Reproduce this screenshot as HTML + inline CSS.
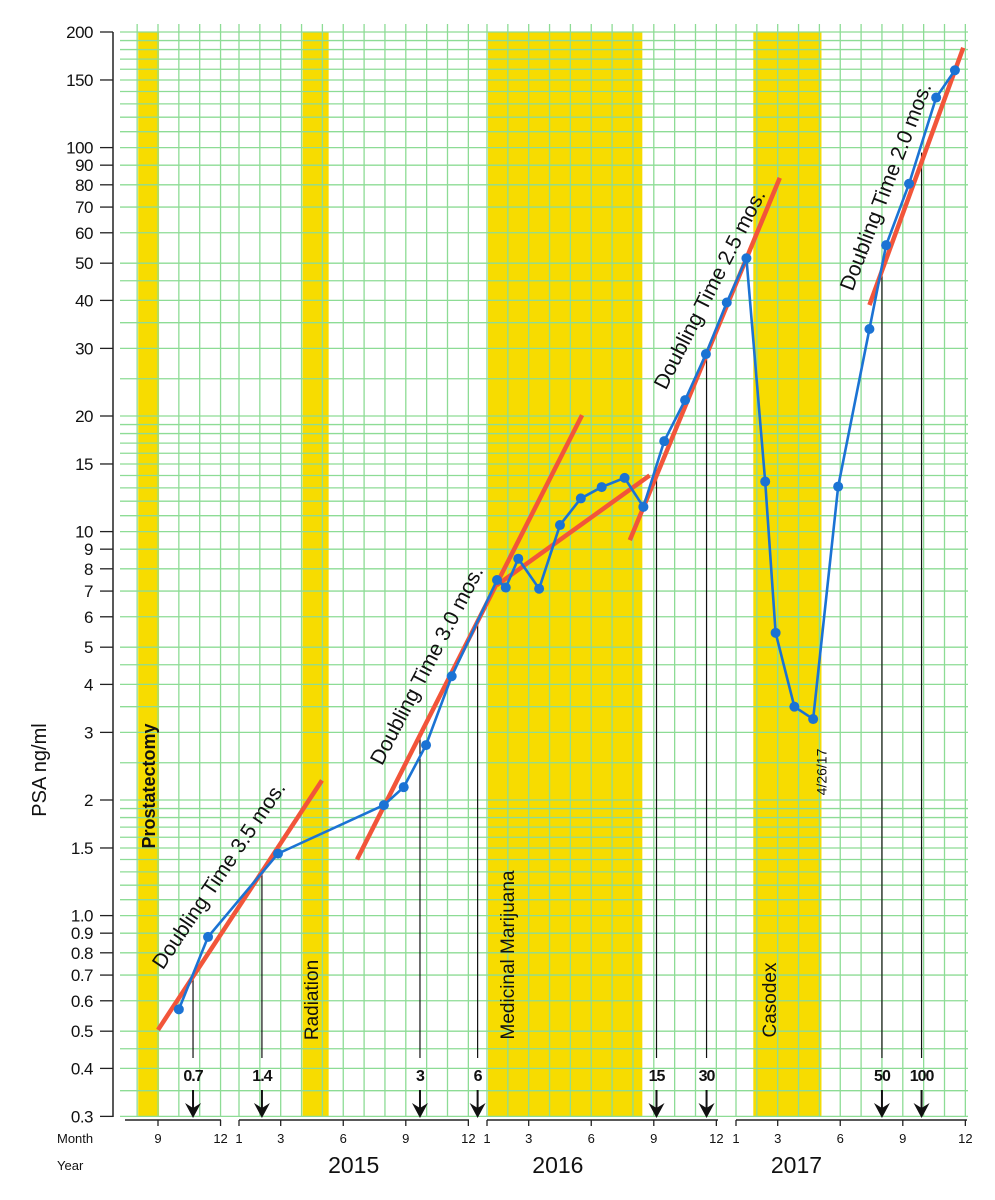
<!DOCTYPE html>
<html><head><meta charset="utf-8">
<style>
html,body{margin:0;padding:0;background:#fff;}
svg{display:block;font-family:"Liberation Sans",sans-serif;}
</style></head>
<body>
<svg id="chart" width="995" height="1200" viewBox="0 0 995 1200" xmlns="http://www.w3.org/2000/svg">
<g id="bands"></g>
<g id="grid"></g>
<g id="yaxis"></g>
<g id="xaxis"></g>
<g id="markers"></g>
<g id="trends"></g>
<g id="series"></g>
<g id="labels"></g>
</svg>
<script>
// ---- data ----
const psaDates = [[2014,10],[2014,11.4],[2015,2.87],[2015,7.95],[2015,8.9],[2015,9.97],[2015,11.2],
 [2016,1.48],[2016,1.9],[2016,2.5],[2016,3.5],[2016,4.5],[2016,5.5],[2016,6.5],[2016,7.6],[2016,8.5],
 [2016,9.5],[2016,10.5],[2016,11.5],[2016,12.5],[2017,1.5],[2017,2.4],[2017,2.9],[2017,3.8],[2017,4.7],
 [2017,5.9],[2017,7.4],[2017,8.2],[2017,9.3],[2017,10.6],[2017,11.5]];
const psaValues = [0.57,0.88,1.45,1.94,2.16,2.78,4.2,7.48,7.15,8.5,7.1,10.4,12.2,13.06,13.8,11.6,
 17.2,22,29,39.5,51.5,13.5,5.45,3.5,3.25,13.1,33.7,55.7,80.5,135,159];
const trendStart = [[2014,9,0.504],[2015,6.66,1.4],[2016,1.48,7.26],[2016,7.85,9.5],[2017,7.4,38.9]];
const trendEnd   = [[2015,4.98,2.25],[2016,5.56,20.1],[2016,8.8,14.0],[2017,3.1,83.4],[2017,11.9,182]];
const markerDates = [[2014,10.68],[2015,2.1],[2015,9.68],[2016,0.55],[2016,9.13],[2016,11.53],[2017,8.0],[2017,9.9]];
const markerValues = [0.7,1.3,2.9,5.8,14.5,29,47,97];
const markerLabels = ["0.7","1.4","3","6","15","30","50","100"];
const bandStart = [[2014,8.05],[2015,4.05],[2016,1.05],[2017,1.83]];
const bandEnd   = [[2014,9.05],[2015,5.3],[2016,8.45],[2017,5.1]];
const yTickValues = [200,150,100,90,80,70,60,50,40,30,20,15,10,9,8,7,6,5,4,3,2,1.5,1,0.9,0.8,0.7,0.6,0.5,0.4,0.3];
const yTickLabels = ["200","150","100","90","80","70","60","50","40","30","20","15","10","9","8","7","6","5","4","3","2","1.5","1.0","0.9","0.8","0.7","0.6","0.5","0.4","0.3"];
const monthTickMonths = [[2014,9],[2014,12],[2015,1],[2015,3],[2015,6],[2015,9],[2015,12],[2016,1],[2016,3],[2016,6],[2016,9],[2016,12],[2017,1],[2017,3],[2017,6],[2017,9],[2017,12]];
const monthTickLabels = ["9","12","1","3","6","9","12","1","3","6","9","12","1","3","6","9","12"];
const years = ["2015","2016","2017"];

// ---- scales ----
const janX = {2014:-8.8, 2015:239, 2016:487, 2017:736};
const MW = 20.85;
function xs(y,m){ return janX[y] + (m-1)*MW; }
const Y200 = 32, PPD = 384;
function ys(v){ return Y200 + PPD*Math.log10(200/v); }
const NS = "http://www.w3.org/2000/svg";
function mk(parent, tag, attrs, text){
  const e = document.createElementNS(NS, tag);
  for (const k in attrs) e.setAttribute(k, attrs[k]);
  if (text !== undefined) e.textContent = text;
  document.getElementById(parent).appendChild(e);
  return e;
}
const TOP = 32, BOT = 1117;

// bands
const bandNames = ["band-prostatectomy","band-radiation","band-medicinal-marijuana","band-casodex"];
bandStart.forEach((s,i)=>{
  const x0 = xs(s[0],s[1]), x1 = xs(bandEnd[i][0],bandEnd[i][1]);
  const r = mk("bands","rect",{x:x0,y:TOP,width:x1-x0,height:BOT-TOP,fill:"#f7dc00"});
  
  
});

// grid verticals
const gv = [];
[[2014,8,12],[2015,1,12],[2016,1,12],[2017,1,12]].forEach(a=>{ for(let m=a[1];m<=a[2];m++) gv.push(xs(a[0],m)); });
gv.forEach(x=>{
  const l = mk("grid","line",{x1:x,x2:x,y1:24,y2:BOT,stroke:"#8ddc95","stroke-width":1.3});
  
  
});
// grid horizontals
const gh = [];
[0.1,1,10,100].forEach(d=>{
  const steps = [3,3.5,4,4.5,5,6,7,8,9,10,11,12,13,14,15,16,17,18,19,20,25,30,35,40,45,50,60,70,80,90];
  steps.forEach(s=>{ const v=s*d/10; if(v>=0.3-1e-9 && v<=200+1e-9) gh.push(v); });
});
[...new Set(gh.map(v=>+v.toFixed(4)))].forEach(v=>{
  const y = ys(v);
  const l = mk("grid","line",{x1:120,x2:968,y1:y,y2:y,stroke:"#8ddc95","stroke-width":1.3});
  
  
});

// y axis
mk("yaxis","line",{x1:113,x2:113,y1:TOP,y2:BOT,stroke:"#222","stroke-width":1.5});
yTickValues.forEach((v,i)=>{
  const y = ys(v);
  const t = mk("yaxis","line",{x1:100,x2:113,y1:y,y2:y,stroke:"#222","stroke-width":1.3});
  
  
  const lb = mk("yaxis","text",{x:93,y:y+6,"text-anchor":"end","font-size":17,fill:"#111","letter-spacing":"-0.5"}, yTickLabels[i]);
  
  
});
const yt = mk("yaxis","text",{x:0,y:0,transform:"translate(46,770) rotate(-90)","text-anchor":"middle","font-size":20,fill:"#111"},"PSA ng/ml");



// x axis segments
[[125,221],[239,469],[487,718],[736,967]].forEach(s=>{
  const l = mk("xaxis","line",{x1:s[0],x2:s[1],y1:1120,y2:1120,stroke:"#222","stroke-width":1.5});
  
  
});
monthTickMonths.forEach((d,i)=>{
  const x = xs(d[0],d[1]);
  mk("xaxis","line",{x1:x,x2:x,y1:1120,y2:1126,stroke:"#222","stroke-width":1.3});
  const t = mk("xaxis","text",{x:x,y:1143,"text-anchor":"middle","font-size":13,fill:"#111"},monthTickLabels[i]);
  
  
});
mk("xaxis","text",{x:57,y:1143,"font-size":13,fill:"#111"},"Month");
mk("xaxis","text",{x:57,y:1170,"font-size":13,fill:"#111"},"Year");
[[2015,6.5],[2016,4.4],[2017,3.9]].forEach((d,i)=>{
  const t = mk("xaxis","text",{x:xs(d[0],d[1]),y:1173,"text-anchor":"middle","font-size":23,fill:"#111"},years[i]);
  
  
});

// markers
markerDates.forEach((d,i)=>{
  const x = xs(d[0],d[1]), yTop = ys(markerValues[i]);
  const l = mk("markers","line",{x1:x,x2:x,y1:yTop,y2:1058,stroke:"#111","stroke-width":1.2});
  
  
  const t = mk("markers","text",{x:x,y:1081,"text-anchor":"middle","font-size":16,"font-weight":"bold",fill:"#111","letter-spacing":"-1"},markerLabels[i]);
  
  
  mk("markers","line",{x1:x,x2:x,y1:1090,y2:1108,stroke:"#111","stroke-width":2});
  const a = mk("markers","path",{d:`M${x-8},${1103} L${x},${1118} L${x+8},${1103} L${x},${1108} Z`,fill:"#111"});
  
  
});

// trends
trendStart.forEach((s,i)=>{
  const e = trendEnd[i];
  const l = mk("trends","line",{x1:xs(s[0],s[1]),y1:ys(s[2]),x2:xs(e[0],e[1]),y2:ys(e[2]),stroke:"#f2553a","stroke-width":4.5,"stroke-linecap":"butt"});
  
  
});

// series
const pts = psaDates.map((d,i)=>[xs(d[0],d[1]), ys(psaValues[i])]);
const pl = mk("series","polyline",{points:pts.map(p=>p.join(",")).join(" "),fill:"none",stroke:"#1b73d4","stroke-width":2.6});


pts.forEach(p=>{
  const c = mk("series","circle",{cx:p[0],cy:p[1],r:5,fill:"#1b73d4"});
  
  
});

// annotations
function rot(name, txt, cx, cy, ang, size, weight){
  const t = mk("labels","text",{x:0,y:0,transform:`translate(${cx},${cy}) rotate(${ang})`,"text-anchor":"middle","dominant-baseline":"middle","font-size":size,"font-weight":weight||"normal",fill:"#111"},txt);
  
  
}
rot("prostatectomy-label","Prostatectomy",150,786,-90,18,"bold");
rot("radiation-label","Radiation",313,1000,-90,19);
rot("marijuana-label","Medicinal Marijuana",509,955,-90,19);
rot("casodex-label","Casodex",771,1000,-90,19);
rot("date-label","4/26/17",823,772,-90,14);
rot("doubling-35-label","Doubling Time 3.5 mos.",220,876,-56,21);
rot("doubling-30-label","Doubling Time 3.0 mos.",428,666,-62.5,21);
rot("doubling-25-label","Doubling Time 2.5 mos.",711,290,-63,21);
rot("doubling-20-label","Doubling Time 2.0 mos.",887,187,-69,21);
</script>
</body></html>
